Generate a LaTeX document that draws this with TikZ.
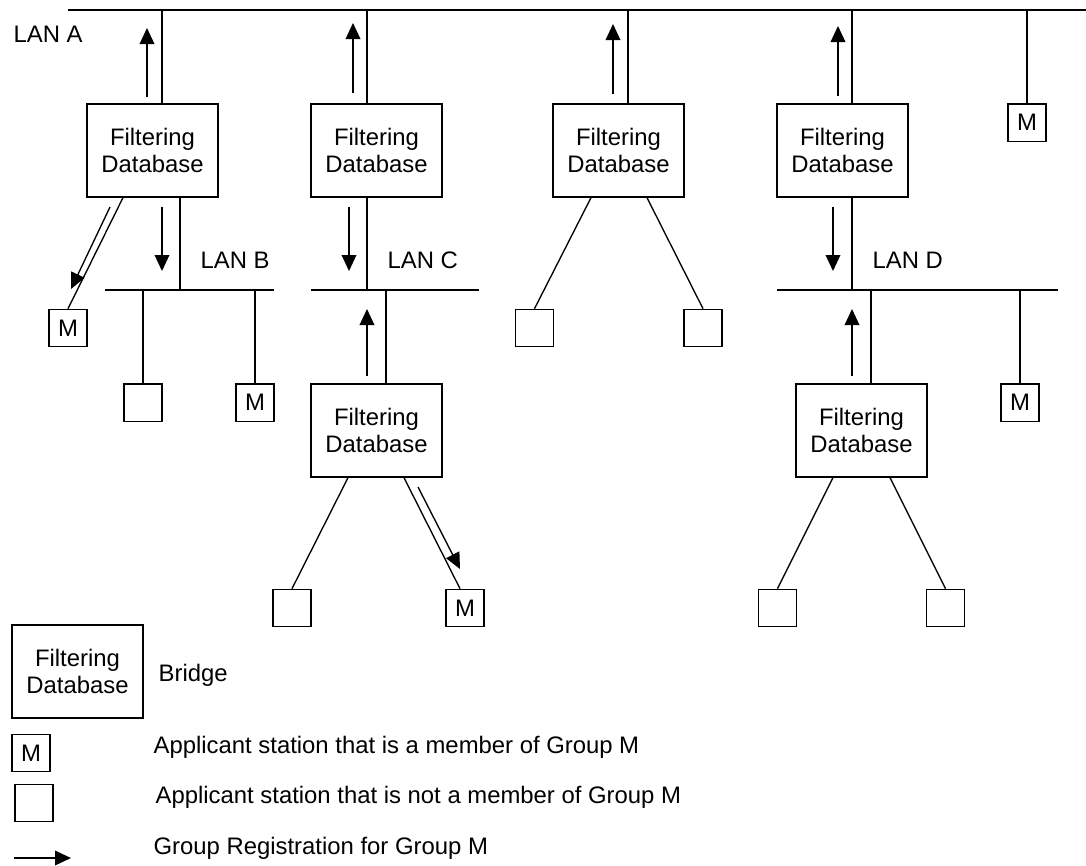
\documentclass[tikz,border=0pt]{standalone}
\usepackage{fontspec}
\setmainfont{Liberation Sans}
\usetikzlibrary{arrows.meta}
\begin{document}
\begin{tikzpicture}[x=0.75pt,y=-0.75pt,
  line width=1pt,
  every node/.style={font=\fontsize{17.9}{20.5}\selectfont},
  bridge/.style={draw,minimum width=98.25pt,minimum height=69.75pt,align=center,inner sep=0pt},
  sta/.style={draw,minimum width=28.5pt,minimum height=28pt,inner sep=0pt},
  lbl/.style={anchor=base west,inner sep=0pt},
  reg/.style={-{Triangle[length=12pt,width=11pt]}}]
\useasboundingbox (0,0) rectangle (1086,865);
% LANs
\coordinate (lanAl) at (68,10);  \coordinate (lanAr) at (1086,10);
\coordinate (lanBl) at (105,290); \coordinate (lanBr) at (274,290);
\coordinate (lanCl) at (311,290); \coordinate (lanCr) at (479,290);
\coordinate (lanDl) at (777,290); \coordinate (lanDr) at (1058,290);
\draw (lanAl) -- (lanAr);
\draw (lanBl) -- (lanBr);
\draw (lanCl) -- (lanCr);
\draw (lanDl) -- (lanDr);
\node[lbl] (labA) at (13,42) {LAN A};
\node[lbl] (labB) at (200,268) {LAN B};
\node[lbl] (labC) at (387,268) {LAN C};
\node[lbl] (labD) at (872,268) {LAN D};
% bridges
\node[bridge] (b1) at (152.5,150.5) {Filtering\\Database};
\node[bridge] (b2) at (376.5,150.5) {Filtering\\Database};
\node[bridge] (b3) at (618.5,150.5) {Filtering\\Database};
\node[bridge] (b4) at (842.5,150.5) {Filtering\\Database};
\node[bridge] (b6) at (376.5,430.5) {Filtering\\Database};
\node[bridge] (b5) at (861.5,430.5) {Filtering\\Database};
% stations
\node[sta] (s1) at (68,328) {M};
\node[sta] (s2) at (143,402.5) {};
\node[sta] (s3) at (255,402.5) {M};
\node[sta] (s4) at (292,608) {};
\node[sta] (s5) at (465,608) {M};
\node[sta] (s6) at (534.5,328) {};
\node[sta] (s7) at (703,328) {};
\node[sta] (s8) at (1027,122.5) {M};
\node[sta] (s9) at (1020,402.5) {M};
\node[sta] (s10) at (777.5,608) {};
\node[sta] (s11) at (945.5,608) {};
% taps on LAN A
\coordinate (a1) at (162,10);
\coordinate (a2) at (367,10);
\coordinate (a3) at (628,10);
\coordinate (a4) at (852,10);
\coordinate (a5) at (1027,10);
\draw (a1) -- (a1 |- b1.north);
\draw (a2) -- (a2 |- b2.north);
\draw (a3) -- (a3 |- b3.north);
\draw (a4) -- (a4 |- b4.north);
\draw (a5) -- (s8.north);
% bridge to lower LANs
\coordinate (tB) at (180,290);
\coordinate (tC) at (367,290);
\coordinate (tC2) at (386,290);
\coordinate (tD) at (852,290);
\coordinate (tD2) at (871,290);
\coordinate (tD3) at (1020,290);
\coordinate (tB1) at (143,290);
\coordinate (tB2) at (255,290);
\draw (tB |- b1.south) -- (tB);
\draw (tC |- b2.south) -- (tC);
\draw (tD |- b4.south) -- (tD);
\draw (tC2) -- (tC2 |- b6.north);
\draw (tD2) -- (tD2 |- b5.north);
\draw (tD3) -- (s9.north);
\draw (tB1) -- (s2.north);
\draw (tB2) -- (s3.north);
% direct station links
\draw (123,0 |- b1.south) -- (s1.north);
\draw (591,0 |- b3.south) -- (s6.north);
\draw (647,0 |- b3.south) -- (s7.north);
\draw (348,0 |- b6.south) -- (s4.north);
\draw (404,0 |- b6.south) -- ([xshift=-3.75pt]s5.north);
\draw (833,0 |- b5.south) -- (s10.north);
\draw (890,0 |- b5.south) -- (s11.north);
% registration arrows
\draw[reg] (147,97) -- (147,28);
\draw[reg] (162,207) -- (162,271);
\draw[reg] (110,207) -- (71,289);
\draw[reg] (353,93) -- (353,23);
\draw[reg] (349,207) -- (349,271);
\draw[reg] (613,94) -- (613,24);
\draw[reg] (838,96) -- (838,26);
\draw[reg] (833,207) -- (833,271);
\draw[reg] (367,376) -- (367,309);
\draw[reg] (418,487) -- (460,569);
\draw[reg] (852,376) -- (852,309);
% legend
\node[bridge] (lb) at (77.5,671.5) {Filtering\\Database};
\node[lbl] (lbt) at (158,681) {Bridge};
\node[sta] (lm) at (31,753) {M};
\node[lbl] (lmt) at (153,753) {Applicant station that is a member of Group M};
\node[sta] (le) at (34,803) {};
\node[lbl] (let) at (155,803) {Applicant station that is not a member of Group M};
\coordinate (la1) at (14,858);
\coordinate (la2) at (71,858);
\draw[reg] (la1) -- (la2);
\node[lbl] (lat) at (153,854) {Group Registration for Group M};
\end{tikzpicture}
\end{document}
